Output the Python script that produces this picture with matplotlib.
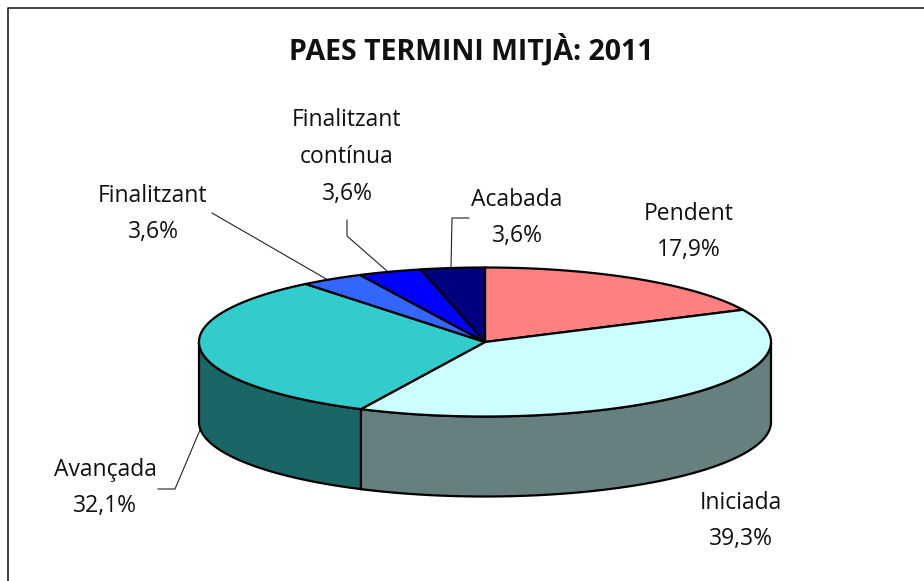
import numpy as np
import matplotlib
matplotlib.use('Agg')
import matplotlib.pyplot as plt

labels = ['Pendent', 'Iniciada', 'Avançada', 'Finalitzant', 'Finalitzant\ncontínua', 'Acabada']
values = [17.9, 39.3, 32.1, 3.6, 3.6, 3.6]
pct_labels = ['17,9%', '39,3%', '32,1%', '3,6%', '3,6%', '3,6%']
top_colors = ['#FF8080', '#CCFFFF', '#33CCCC', '#3366FF', '#0000FF', '#000080']
side_colors = ['#804040', '#668080', '#1A6666', '#1A3380', '#000080', '#000040']

cx, cy = 485, 342
rx, ry = 286, 74.5
depth = 80

label_pos = [(689, 232), (741, 521), (105, 488), (153, 214), (347, 157), (517, 218)]
# leader lines, in pixels
leaders = [
    [(212, 213), (328, 280)],
    [(347, 220), (347, 236), (387, 271)],
    [(469, 218), (452, 218), (451, 268)],
    [(200, 430), (175, 489), (158, 489)],
]

plt.rcParams['font.family'] = ['Open Sans', 'DejaVu Sans']
fig = plt.figure(figsize=(9.24, 5.81), dpi=100)
ax = fig.add_axes([0, 0, 1, 1])
ax.set_xlim(0, 924)
ax.set_ylim(581, 0)
ax.axis('off')

# only the top and left of the frame are inside the picture
ax.plot([924, 8, 8], [8, 8, 581], color='#222222', lw=1.2)


def rim(a, b):
    t = np.radians(np.linspace(a, b, 200))
    return cx + rx * np.sin(t), cy - ry * np.cos(t)


edges = np.concatenate([[0], np.cumsum(values)]) / sum(values) * 360
for i in range(len(values)):
    a, b = max(edges[i], 90), min(edges[i + 1], 270)
    if a >= b:
        continue
    x, y = rim(a, b)
    ax.fill(np.r_[x, x[::-1]], np.r_[y, y[::-1] + depth], fc=side_colors[i], ec='black', lw=1.6, zorder=2)

for i in range(len(values)):
    x, y = rim(edges[i], edges[i + 1])
    ax.fill(np.r_[cx, x], np.r_[cy, y], fc=top_colors[i], ec='black', lw=1.6, zorder=3)

for pts in leaders:
    px, py = zip(*pts)
    ax.plot(px, py, color='#222222', lw=0.8, zorder=1)

ax.text(471, 50, 'PAES TERMINI MITJÀ: 2011', ha='center', va='center', fontsize=20.5, fontweight='bold', color='#111111')
for lab, pct, (lx, ly) in zip(labels, pct_labels, label_pos):
    ax.text(lx, ly, lab + '\n' + pct, ha='center', va='center', fontsize=16.5, linespacing=1.7, color='#111111')

fig.savefig('out.png', dpi=100)
